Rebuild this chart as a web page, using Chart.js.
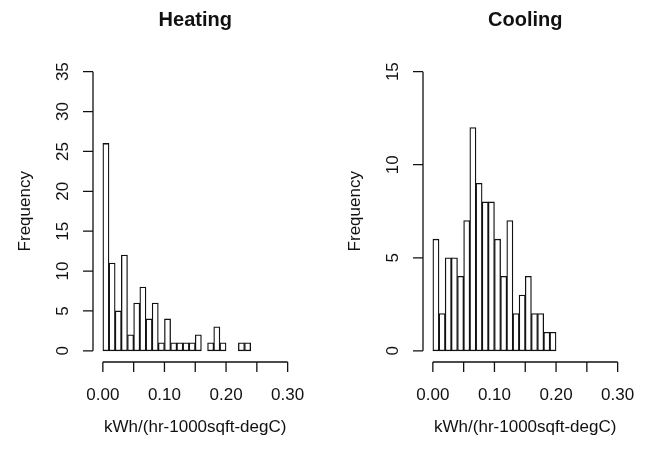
<!DOCTYPE html>
<html>
<head>
<meta charset="utf-8">
<script src="https://cdn.jsdelivr.net/npm/chart.js@4.4.0/dist/chart.umd.min.js"></script>
<style>
  body { margin: 0; background: #fff; }
  canvas { position: absolute; top: 0; }
  #heat { left: 0; }
  #cool { left: 323px; }
</style>
</head>
<body>
<canvas id="heat" width="323" height="449"></canvas>
<canvas id="cool" width="323" height="449"></canvas>
<script>
// histogram counts, bins of 0.01 starting at 0
const binWidth = 0.01
const heatingCounts = [26, 11, 5, 12, 2, 6, 8, 4, 6, 1, 4, 1, 1, 1, 1, 2, 0, 1, 3, 1, 0, 0, 1, 1]
const coolingCounts = [6, 2, 5, 5, 4, 7, 12, 9, 8, 8, 6, 4, 7, 2, 3, 4, 2, 2, 1, 1]

const xTicks = [0, 0.05, 0.10, 0.15, 0.20, 0.25, 0.30]
const xTickLabels = ["0.00", "", "0.10", "", "0.20", "", "0.30"]
const heatingYTicks = [0, 5, 10, 15, 20, 25, 30, 35]
const coolingYTicks = [0, 5, 10, 15]

const xLabel = "kWh/(hr-1000sqft-degC)"
const yLabel = "Frequency"

const FONT = '"Liberation Sans", Arial, sans-serif'
const INK = "#111"

function toPoints(counts) {
    return counts.map((c, i) => ({ x: (i + 0.5) * binWidth, y: c }))
}

// R style axes: detached lines spanning first to last tick
const rAxes = {
    id: "rAxes",
    afterDraw(chart, args, opts) {
        const ctx = chart.ctx
        const xs = chart.scales.x
        const ys = chart.scales.y
        const area = chart.chartArea
        ctx.save()
        ctx.strokeStyle = INK
        ctx.fillStyle = INK
        ctx.lineWidth = 1.3

        // x axis
        const x0 = xs.getPixelForValue(xTicks[0])
        const x1 = xs.getPixelForValue(xTicks[xTicks.length - 1])
        const yb = area.bottom
        ctx.beginPath()
        ctx.moveTo(x0, yb)
        ctx.lineTo(x1, yb)
        for (const t of xTicks) {
            const px = xs.getPixelForValue(t)
            ctx.moveTo(px, yb)
            ctx.lineTo(px, yb + 10)
        }
        // y axis
        const yt = opts.yTicks
        const y0 = ys.getPixelForValue(yt[0])
        const y1 = ys.getPixelForValue(yt[yt.length - 1])
        const xl = area.left
        ctx.moveTo(xl, y0)
        ctx.lineTo(xl, y1)
        for (const t of yt) {
            const py = ys.getPixelForValue(t)
            ctx.moveTo(xl, py)
            ctx.lineTo(xl - 10, py)
        }
        ctx.stroke()

        ctx.font = "17px " + FONT
        ctx.textAlign = "center"
        ctx.textBaseline = "middle"
        xTicks.forEach((t, i) => {
            if (xTickLabels[i]) ctx.fillText(xTickLabels[i], xs.getPixelForValue(t), yb + 33)
        })
        for (const t of yt) {
            ctx.save()
            ctx.translate(xl - 30, ys.getPixelForValue(t))
            ctx.rotate(-Math.PI / 2)
            ctx.fillText(String(t), 0, 0)
            ctx.restore()
        }

        // axis titles
        const cx = (area.left + area.right) / 2
        ctx.textBaseline = "alphabetic"
        ctx.fillText(xLabel, cx, 432)
        ctx.save()
        ctx.translate(xl - 63, (area.top + area.bottom) / 2)
        ctx.rotate(-Math.PI / 2)
        ctx.fillText(yLabel, 0, 0)
        ctx.restore()

        // main title
        ctx.font = "bold 20px " + FONT
        ctx.fillText(opts.title, cx, 26)
        ctx.restore()
    }
}

function makeHist(id, counts, yTicks, yMax, title, padLeft, padRight) {
    const pad = yMax * 0.04
    new Chart(document.getElementById(id), {
        type: "bar",
        data: {
            datasets: [{
                data: toPoints(counts),
                backgroundColor: "#fff",
                borderColor: INK,
                borderWidth: 1.3,
                borderSkipped: false,
                barPercentage: 1,
                categoryPercentage: 1
            }]
        },
        options: {
            responsive: false,
            animation: false,
            layout: { padding: { left: padLeft, right: padRight, top: 60.5, bottom: 87 } },
            scales: {
                x: {
                    type: "linear", display: false, offset: false, min: -0.016, max: 0.316,
                    afterBuildTicks: s => { s.ticks = xTicks.map(v => ({ value: v })) }
                },
                y: {
                    display: false, min: -pad, max: yMax + pad,
                    afterBuildTicks: s => { s.ticks = yTicks.map(v => ({ value: v })) }
                }
            },
            plugins: {
                legend: { display: false },
                tooltip: { enabled: false },
                rAxes: { yTicks: yTicks, title: title }
            }
        },
        plugins: [rAxes]
    })
}

makeHist("heat", heatingCounts, heatingYTicks, 35, "Heating", 93, 25.5)
makeHist("cool", coolingCounts, coolingYTicks, 15, "Cooling", 100, 18.5)
</script>
</body>
</html>
